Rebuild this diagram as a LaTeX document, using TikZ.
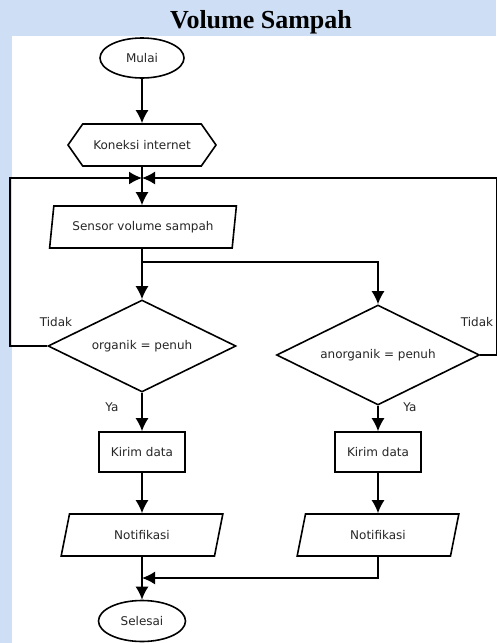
\documentclass[tikz,border=0pt]{standalone}
\usepackage{fontspec}
\setmainfont{Liberation Serif}
\newfontfamily\chartfont{DejaVu Sans}
\usetikzlibrary{shapes.geometric,shapes.symbols,arrows.meta}
\definecolor{latar}{RGB}{206,222,244}
\tikzset{>={Latex[length=13pt,width=13pt]}}

\begin{document}
\begin{tikzpicture}[x=1pt, y=-1pt, line width=1.6pt]
        % koordinat dalam piksel, sumbu y ke bawah
        \tikzstyle{every node}=[font=\chartfont\fontsize{12}{14}\selectfont, text=black!85, inner sep=0pt]
        \tikzstyle{terminal}=[ellipse, draw, minimum width=84pt, minimum height=40pt]
        \tikzstyle{persiapan}=[signal, signal to=west and east, signal pointer angle=110, draw, minimum width=148pt, minimum height=42pt]
        \tikzstyle{masukan}=[trapezium, trapezium left angle=74, trapezium right angle=106, trapezium stretches=true, draw, minimum height=42pt]
        \tikzstyle{proses}=[rectangle, draw, minimum width=86pt, minimum height=40pt]
        \tikzstyle{keputusan}=[diamond, shape aspect=2, draw]
        \fill[latar] (0,0) rectangle (496,643);
        \fill[white] (12,36) rectangle (496,643);
        \node[font=\fontsize{26}{30}\selectfont\bfseries, text=black] (judul) at (261,22) {Volume Sampah};

        \node[terminal] (mulai) at (142,58) {Mulai};
        \node[persiapan] (koneksi) at (142,145) {Koneksi internet};
        \coordinate (titik) at (142,178);
        \node[masukan, minimum width=187pt] (sensor) at (143,227) {Sensor volume sampah};
        \coordinate (cabang) at (142,262);
        \node[keputusan, minimum width=188pt, minimum height=92pt] (organik) at (142,346) {organik = penuh};
        \node[keputusan, minimum width=203pt, minimum height=100pt] (anorganik) at (378,355) {anorganik = penuh};
        \node[proses] (kirim1) at (142,452) {Kirim data};
        \node[proses] (kirim2) at (378,452) {Kirim data};
        \node[masukan, minimum width=162pt, trapezium left angle=71, trapezium right angle=109] (notif1) at (142,535) {Notifikasi};
        \node[masukan, minimum width=162pt, trapezium left angle=71, trapezium right angle=109] (notif2) at (378,535) {Notifikasi};
        \coordinate (gabung) at (142,578);
        \node[terminal, minimum width=87pt, minimum height=41pt] (selesai) at (142,621) {Selesai};

        \node (tidak1) at (56,322) {Tidak};
        \node (tidak2) at (477,322) {Tidak};
        \node (ya1) at (112,407) {Ya};
        \node (ya2) at (410,407) {Ya};

        \draw[->] (mulai) -- (koneksi);
        \draw (koneksi) -- (titik);
        \draw[->] (titik) -- (sensor.north -| titik);
        \draw (sensor.south -| cabang) -- (cabang);
        \draw[->] (cabang) -- (organik);
        \draw[->] (cabang) -| (anorganik);
        \draw[->] (organik.west) -- ++(-37,0) |- (titik);
        \draw[->] (anorganik.east) -- ++(16,0) |- (titik);
        \draw[->] (organik) -- (kirim1);
        \draw[->] (anorganik) -- (kirim2);
        \draw[->] (kirim1) -- (notif1);
        \draw[->] (kirim2) -- (notif2);
        \draw[->] (notif1) -- (selesai);
        \draw[->] (notif2) |- (gabung);
\end{tikzpicture}
\end{document}
